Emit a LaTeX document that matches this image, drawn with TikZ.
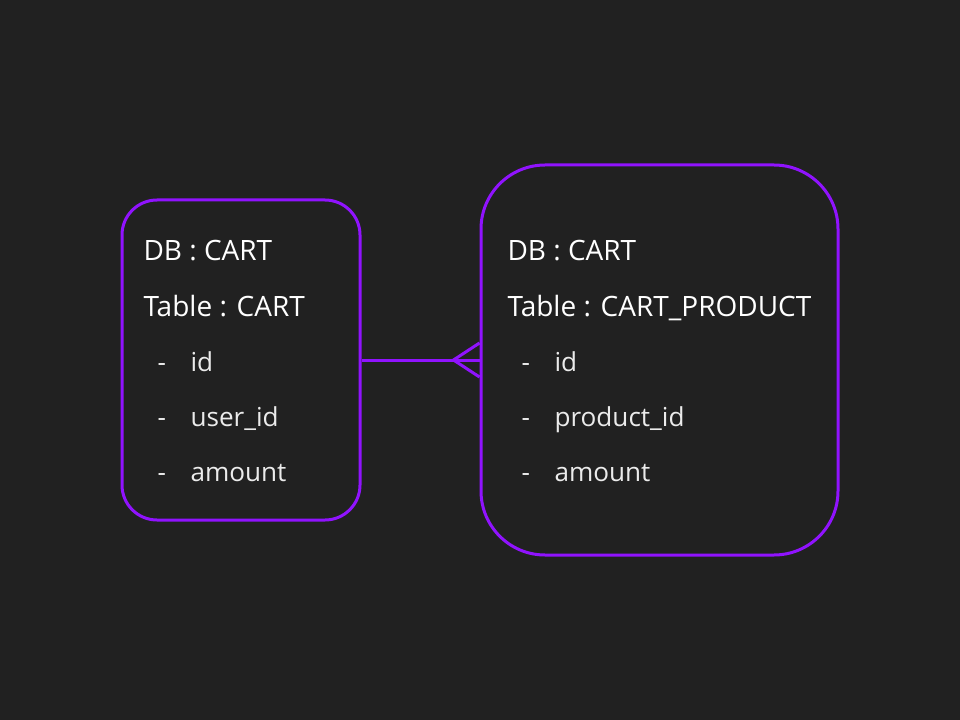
\documentclass[tikz,border=0pt]{standalone}
\usepackage{fontspec}
\setmainfont{Open Sans}
\usetikzlibrary{calc}
\definecolor{bgdark}{HTML}{212121}
\definecolor{erpurple}{HTML}{9013FE}
\tikzset{every picture/.style={line width=0.75pt}}

\begin{document}
\begin{tikzpicture}[x=0.75pt,y=0.75pt,yscale=-1,xscale=1,
	tablebox/.style={draw=erpurple, line width=2.25pt, inner sep=0pt},
	erline/.style={draw=erpurple, line width=2.25pt},
	title/.style={anchor=base west, inner sep=0pt, text=white, font=\fontsize{21}{25}\selectfont},
	field/.style={anchor=base west, inner sep=0pt, text=white!92!black, font=\fontsize{19.6}{23}\selectfont}]
	%background, set diagram to 960 x 720
	\fill [bgdark] (0,0) rectangle (960,720);
	\useasboundingbox (0,0) rectangle (960,720);

	%Shape: Rounded Rect [CART]
	\node [tablebox, rounded corners=26.25pt, minimum width=178.5pt, minimum height=240pt] (cart) at (241,360) {};
	%Shape: Rounded Rect [CART_PRODUCT]
	\node [tablebox, rounded corners=48pt, minimum width=267.75pt, minimum height=292.5pt] (cartprod) at (659.5,360) {};

	%Straight Lines [one to many]
	\coordinate (crowtip) at ($(cartprod.west)+(-26,0)$);
	\draw [erline] (cart.east) -- (cartprod.west);
	\draw [erline] ($(cartprod.west)+(0,-17)$) -- (crowtip) -- ($(cartprod.west)+(0,17)$);

	% Text Node
	\node [title] (cartdb) at (143,261) {DB : CART};
	% Text Node
	\node [title] (carttable) at (143,316) {Table : CART};
	% Text Node
	\node [field] (cartdasha) at (157,371) {-};
	\node [field] (cartid) at (190,371) {id};
	% Text Node
	\node [field] (cartdashb) at (157,426) {-};
	\node [field] (cartuser) at (190,426) {user\_id};
	% Text Node
	\node [field] (cartdashc) at (157,481) {-};
	\node [field] (cartamount) at (190,481) {amount};

	% Text Node
	\node [title] (proddb) at (507,261) {DB : CART};
	% Text Node
	\node [title] (prodtable) at (507,316) {Table : CART\_PRODUCT};
	% Text Node
	\node [field] (proddasha) at (521,371) {-};
	\node [field] (prodid) at (554,371) {id};
	% Text Node
	\node [field] (proddashb) at (521,426) {-};
	\node [field] (prodproduct) at (554,426) {product\_id};
	% Text Node
	\node [field] (proddashc) at (521,481) {-};
	\node [field] (prodamount) at (554,481) {amount};

\end{tikzpicture}
\end{document}
